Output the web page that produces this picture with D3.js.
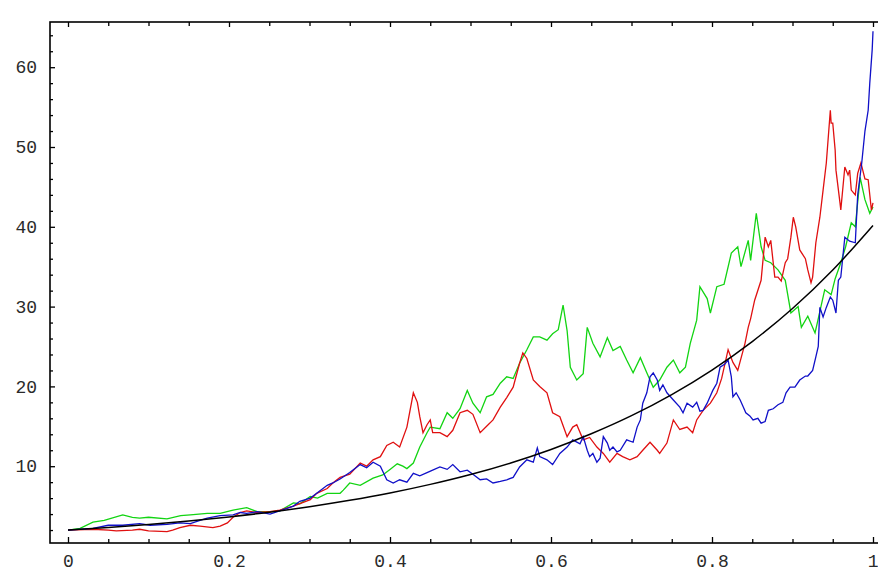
<!DOCTYPE html>
<html>
<head>
<meta charset="utf-8">
<script src="https://cdn.jsdelivr.net/npm/d3@7"></script>
<style>
  html, body { margin: 0; padding: 0; background: #fff; }
  svg { display: block; }
  .tick text { font-family: "Liberation Mono", "DejaVu Sans Mono", monospace; font-size: 18px; fill: #2a2a2a; }
</style>
</head>
<body>
<svg id="chart" width="878" height="572"></svg>
<script>
// Time grid ticks and value ticks
const xMajorTicks = [0, 0.2, 0.4, 0.6, 0.8, 1];
const xMinorTicks = [0.05, 0.1, 0.15, 0.25, 0.3, 0.35, 0.45, 0.5, 0.55, 0.65, 0.7, 0.75, 0.85, 0.9, 0.95];
const yMajorTicks = [10, 20, 30, 40, 50, 60];
const yMinorTicks = [2, 4, 6, 8, 12, 14, 16, 18, 22, 24, 26, 28, 32, 34, 36, 38, 42, 44, 46, 48, 52, 54, 56, 58, 62, 64];

// Expected value curve, sampled every 0.05
const meanT = [0, 0.05, 0.1, 0.15, 0.2, 0.25, 0.3, 0.35, 0.4, 0.45, 0.5, 0.55, 0.6, 0.65, 0.7, 0.75, 0.8, 0.85, 0.9, 0.95, 1];
const meanV = [2.0, 2.32, 2.7, 3.14, 3.64, 4.23, 4.92, 5.72, 6.64, 7.72, 8.96, 10.41, 12.1, 14.06, 16.33, 18.98, 22.05, 25.62, 29.76, 34.58, 40.17];

// Simulated sample paths: [t, value]
const greenPath = [[0,2.0],[0.015,2.2],[0.031,3.0],[0.045,3.2],[0.068,3.9],[0.08,3.6],[0.089,3.5],[0.1,3.6],[0.123,3.4],[0.14,3.8],[0.152,3.9],[0.173,4.1],[0.189,4.1],[0.205,4.5],[0.222,4.8],[0.235,4.3],[0.251,4.3],[0.263,4.4],[0.28,5.4],[0.288,5.3],[0.301,6.2],[0.31,6.0],[0.322,6.6],[0.338,6.6],[0.342,7.0],[0.35,7.9],[0.363,7.6],[0.379,8.5],[0.391,8.9],[0.4,9.6],[0.409,10.3],[0.416,10.0],[0.421,9.7],[0.429,10.4],[0.437,12.4],[0.446,14.2],[0.45,14.9],[0.462,14.7],[0.471,16.7],[0.478,16.0],[0.487,17.2],[0.496,19.5],[0.503,17.9],[0.512,16.7],[0.52,18.7],[0.528,19.0],[0.537,20.4],[0.545,21.2],[0.553,21.0],[0.561,22.9],[0.57,24.6],[0.578,26.2],[0.586,26.2],[0.595,25.8],[0.602,26.6],[0.609,27.1],[0.615,30.2],[0.62,27.0],[0.624,22.4],[0.632,20.8],[0.64,21.6],[0.645,27.4],[0.652,25.4],[0.661,23.7],[0.67,26.1],[0.677,24.5],[0.686,25.0],[0.694,23.3],[0.702,21.7],[0.711,23.6],[0.719,21.7],[0.727,19.9],[0.735,20.8],[0.744,22.4],[0.752,23.3],[0.76,21.7],[0.767,22.4],[0.773,25.4],[0.781,28.3],[0.785,32.5],[0.794,31.0],[0.798,29.2],[0.806,32.5],[0.815,32.8],[0.824,36.7],[0.832,37.5],[0.836,35.0],[0.845,38.3],[0.848,35.8],[0.855,41.7],[0.861,37.5],[0.866,35.8],[0.873,35.5],[0.882,34.6],[0.891,33.3],[0.898,29.2],[0.907,30.0],[0.911,27.4],[0.919,28.8],[0.928,26.7],[0.932,28.5],[0.94,32.1],[0.948,31.5],[0.953,33.5],[0.96,35.5],[0.966,37.5],[0.973,40.5],[0.978,40.0],[0.984,46.2],[0.99,43.4],[0.996,41.7],[1.0,42.5]];

const redPath = [[0,2.0],[0.031,2.1],[0.05,2.0],[0.06,1.9],[0.08,2.0],[0.089,2.1],[0.1,1.9],[0.123,1.8],[0.13,2.0],[0.139,2.3],[0.152,2.6],[0.164,2.5],[0.18,2.3],[0.189,2.5],[0.198,2.9],[0.205,3.6],[0.214,4.2],[0.222,4.4],[0.235,4.2],[0.251,4.3],[0.263,4.5],[0.28,5.0],[0.301,5.8],[0.309,6.6],[0.322,7.2],[0.329,7.9],[0.338,8.6],[0.35,9.0],[0.363,10.4],[0.371,10.0],[0.379,10.8],[0.388,11.2],[0.396,12.6],[0.404,13.0],[0.412,12.4],[0.421,14.9],[0.429,19.2],[0.434,18.0],[0.437,16.2],[0.441,14.2],[0.446,15.2],[0.45,15.8],[0.453,14.2],[0.462,14.2],[0.471,13.7],[0.478,14.5],[0.487,16.7],[0.496,17.0],[0.503,16.5],[0.512,14.2],[0.52,15.0],[0.528,15.8],[0.537,17.4],[0.545,18.6],[0.553,19.9],[0.561,22.9],[0.565,24.2],[0.57,23.5],[0.578,20.8],[0.586,20.0],[0.595,19.2],[0.602,16.7],[0.611,16.2],[0.62,13.7],[0.627,14.9],[0.632,15.2],[0.64,13.3],[0.648,13.6],[0.657,12.4],[0.665,11.6],[0.673,10.5],[0.682,11.6],[0.689,11.2],[0.698,10.8],[0.707,11.2],[0.714,12.0],[0.723,13.0],[0.732,12.0],[0.735,11.6],[0.744,12.9],[0.752,15.8],[0.76,14.6],[0.769,14.9],[0.776,14.2],[0.781,15.8],[0.789,17.0],[0.798,17.9],[0.806,19.2],[0.812,21.0],[0.82,24.6],[0.826,23.0],[0.832,22.0],[0.841,25.4],[0.845,27.4],[0.848,28.5],[0.853,30.8],[0.861,33.3],[0.866,38.7],[0.87,37.5],[0.873,38.3],[0.878,33.7],[0.882,33.7],[0.886,33.2],[0.891,35.5],[0.894,36.0],[0.898,38.7],[0.901,41.2],[0.904,40.0],[0.909,37.1],[0.916,36.0],[0.919,34.6],[0.923,33.0],[0.925,33.7],[0.929,38.0],[0.934,41.2],[0.938,44.6],[0.942,48.0],[0.947,54.6],[0.948,53.0],[0.95,53.0],[0.953,49.6],[0.954,47.1],[0.959,43.0],[0.96,42.1],[0.965,47.5],[0.969,46.5],[0.971,47.1],[0.973,44.6],[0.978,44.0],[0.981,46.7],[0.985,48.0],[0.99,46.0],[0.994,45.9],[0.998,42.1],[1.0,43.0]];

const bluePath = [[0,2.0],[0.031,2.2],[0.05,2.6],[0.068,2.6],[0.089,2.8],[0.102,2.6],[0.123,2.7],[0.139,2.9],[0.152,2.8],[0.164,3.2],[0.173,3.5],[0.189,3.8],[0.205,3.9],[0.214,4.2],[0.222,4.1],[0.235,4.3],[0.251,4.0],[0.263,4.4],[0.28,5.0],[0.288,5.6],[0.301,6.0],[0.309,6.6],[0.322,7.6],[0.329,7.9],[0.338,8.4],[0.35,9.2],[0.363,10.2],[0.371,9.8],[0.379,10.5],[0.388,10.0],[0.396,8.3],[0.404,7.9],[0.412,8.3],[0.421,8.0],[0.429,9.1],[0.437,8.8],[0.446,9.2],[0.453,9.5],[0.462,9.9],[0.471,9.6],[0.478,10.2],[0.487,9.3],[0.496,9.5],[0.503,9.0],[0.512,8.3],[0.52,8.4],[0.528,7.9],[0.537,8.1],[0.545,8.3],[0.553,8.6],[0.561,9.9],[0.57,10.8],[0.578,10.5],[0.583,12.3],[0.586,11.2],[0.595,10.8],[0.602,10.2],[0.611,11.6],[0.62,12.4],[0.627,13.3],[0.636,12.8],[0.64,13.7],[0.645,12.0],[0.648,11.2],[0.652,11.6],[0.657,10.5],[0.661,11.0],[0.665,13.7],[0.67,12.9],[0.673,12.0],[0.677,12.4],[0.682,11.8],[0.686,12.0],[0.694,13.3],[0.702,13.0],[0.707,14.9],[0.711,15.8],[0.714,17.9],[0.719,19.2],[0.723,21.2],[0.727,21.7],[0.732,20.8],[0.735,19.5],[0.739,20.2],[0.744,19.2],[0.752,18.3],[0.76,17.4],[0.764,16.7],[0.769,17.9],[0.776,17.4],[0.781,18.0],[0.785,16.9],[0.789,17.0],[0.794,17.9],[0.801,19.5],[0.806,20.4],[0.81,22.4],[0.816,22.8],[0.82,23.3],[0.824,21.2],[0.826,18.7],[0.83,19.2],[0.835,18.3],[0.839,17.4],[0.842,16.7],[0.847,16.3],[0.851,15.8],[0.857,16.0],[0.861,15.4],[0.866,15.6],[0.87,17.0],[0.876,17.2],[0.882,17.7],[0.888,18.0],[0.892,19.2],[0.897,19.9],[0.903,19.9],[0.909,20.8],[0.916,21.3],[0.919,21.3],[0.925,22.0],[0.929,23.7],[0.932,25.0],[0.934,29.9],[0.938,28.7],[0.942,29.9],[0.947,31.2],[0.95,30.8],[0.954,29.2],[0.957,33.3],[0.96,33.7],[0.965,38.7],[0.971,38.2],[0.978,38.0],[0.981,44.0],[0.986,48.0],[0.99,52.0],[0.994,54.6],[0.996,58.0],[0.999,62.2],[1.0,64.5]];

const svg = d3.select("#chart");

// Plot frame (Mathematica-style, right edge runs past the window)
const frame = { left: 50, top: 22, right: 891, bottom: 543 };

const x = d3.scaleLinear().domain([0, 1]).range([68, 873]);
const y = d3.scaleLinear().domain([0, 60]).range([546, 67.2]);

svg.append("defs").append("clipPath").attr("id", "plot-clip")
  .append("rect")
  .attr("x", frame.left).attr("y", frame.top)
  .attr("width", frame.right - frame.left).attr("height", frame.bottom - frame.top);

const plot = svg.append("g").attr("clip-path", "url(#plot-clip)");

const pathLine = d3.line().x(d => x(d[0])).y(d => y(d[1]));
const meanLine = d3.line().curve(d3.curveMonotoneX).x(d => x(d[0])).y(d => y(d[1]));

const series = [
  { data: greenPath, color: "#12d412" },
  { data: redPath, color: "#e01010" },
  { data: bluePath, color: "#1010c8" }
];
series.forEach(s => {
  plot.append("path")
    .datum(s.data)
    .attr("d", pathLine)
    .attr("fill", "none")
    .attr("stroke", s.color)
    .attr("stroke-width", 1.3)
    .attr("stroke-linejoin", "miter");
});

plot.append("path")
  .datum(meanT.map((t, i) => [t, meanV[i]]))
  .attr("d", meanLine)
  .attr("fill", "none")
  .attr("stroke", "#000")
  .attr("stroke-width", 1.5);

// Ticks on the frame, pointing inward
function styleAxis(g) {
  g.select(".domain").remove();
  g.selectAll(".tick line").attr("stroke", "#000").attr("stroke-width", 1.3);
}

// bottom
svg.append("g").attr("transform", `translate(0,${frame.bottom})`)
  .call(d3.axisBottom(x).tickValues(xMinorTicks).tickSize(-4).tickFormat(""))
  .call(styleAxis);
svg.append("g").attr("transform", `translate(0,${frame.bottom})`)
  .call(d3.axisBottom(x).tickValues(xMajorTicks).tickSize(-6).tickPadding(11)
    .tickFormat(d => d === 0 ? "0" : d === 1 ? "1" : d3.format(".1f")(d)))
  .call(styleAxis)
  .call(g => g.selectAll(".tick text").attr("fill", "#2a2a2a"))
  .call(g => g.selectAll(".tick text").filter(d => d === 1).attr("text-anchor", "end").attr("dx", "5"));

// top
svg.append("g").attr("transform", `translate(0,${frame.top})`)
  .call(d3.axisTop(x).tickValues(xMinorTicks).tickSize(-4).tickFormat(""))
  .call(styleAxis);
svg.append("g").attr("transform", `translate(0,${frame.top})`)
  .call(d3.axisTop(x).tickValues(xMajorTicks).tickSize(-5).tickFormat(""))
  .call(styleAxis);

// left
svg.append("g").attr("transform", `translate(${frame.left},0)`)
  .call(d3.axisLeft(y).tickValues(yMinorTicks).tickSize(-3).tickFormat(""))
  .call(styleAxis);
svg.append("g").attr("transform", `translate(${frame.left},0)`)
  .call(d3.axisLeft(y).tickValues(yMajorTicks).tickSize(-5).tickPadding(13).tickFormat(d3.format("d")))
  .call(styleAxis)
  .call(g => g.selectAll(".tick text").attr("fill", "#2a2a2a"));

// frame
svg.append("rect")
  .attr("x", frame.left).attr("y", frame.top)
  .attr("width", frame.right - frame.left).attr("height", frame.bottom - frame.top)
  .attr("fill", "none").attr("stroke", "#000").attr("stroke-width", 1.6);
</script>
</body>
</html>
